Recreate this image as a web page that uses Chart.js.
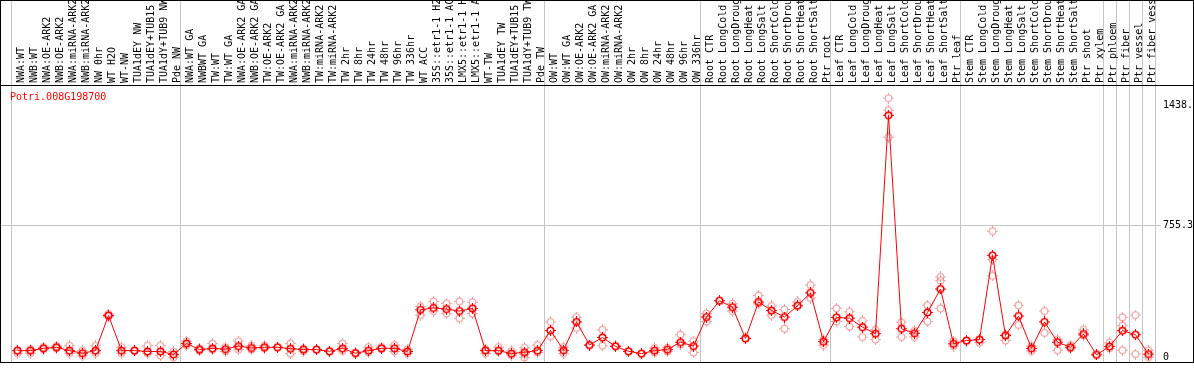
<!DOCTYPE html>
<html>
<head>
<meta charset="utf-8">
<script src="https://cdn.jsdelivr.net/npm/chart.js@4"></script>
<style>
  html, body { margin: 0; padding: 0; background: #fff; }
</style>
</head>
<body>
<canvas id="efp-chart" width="1194" height="370"></canvas>
<script>
var geneId = 'Potri.008G198700';

var sampleLabels = [
    'NWA:WT', 'NWB:WT', 'NWA:OE-ARK2', 'NWB:OE-ARK2', 'NWA:miRNA-ARK2', 'NWB:miRNA-ARK2', 'NW 0hr', 'WT H2O', 'WT-NW',
    'TUA1dEY NW', 'TUA1dEY+TUB15 NW', 'TUA1dY+TUB9 NW', 'Pde NW',
    'NWA:WT GA', 'NWBWT GA', 'TW:WT', 'TW:WT GA', 'NWA:OE-ARK2 GA', 'NWB:OE-ARK2 GA', 'TW:OE-ARK2', 'TW:OE-ARK2 GA',
    'NWA:miRNA-ARK2', 'NWB:miRNA-ARK2', 'TW:miRNA-ARK2', 'TW:miRNA-ARK2', 'TW 2hr', 'TW 8hr', 'TW 24hr', 'TW 48hr',
    'TW 96hr', 'TW 336hr', 'WT ACC', '35S::etr1-1 H2O', '35S::etr1-1 ACC', 'LMX5::etr1-1 H2O', 'LMX5::etr1-1 ACC',
    'WT-TW', 'TUA1dEY TW', 'TUA1dEY+TUB15 TW', 'TUA1dY+TUB9 TW', 'Pde TW',
    'OW:WT', 'OW:WT GA', 'OW:OE-ARK2', 'OW:OE-ARK2 GA', 'OW:miRNA-ARK2', 'OW:miRNA-ARK2', 'OW 2hr', 'OW 8hr',
    'OW 24hr', 'OW 48hr', 'OW 96hr', 'OW 336hr',
    'Root CTR', 'Root LongCold', 'Root LongDrought', 'Root LongHeat', 'Root LongSalt', 'Root ShortCold',
    'Root ShortDrought', 'Root ShortHeat', 'Root ShortSalt', 'Ptr root',
    'Leaf CTR', 'Leaf LongCold', 'Leaf LongDrought', 'Leaf LongHeat', 'Leaf LongSalt', 'Leaf ShortCold',
    'Leaf ShortDrought', 'Leaf ShortHeat', 'Leaf ShortSalt', 'Ptr leaf',
    'Stem CTR', 'Stem LongCold', 'Stem LongDrought', 'Stem LongHeat', 'Stem LongSalt', 'Stem ShortCold',
    'Stem ShortDrought', 'Stem ShortHeat', 'Stem ShortSalt', 'Ptr shoot', 'Ptr xylem', 'Ptr phloem',
    'Ptr fiber', 'Ptr vessel', 'Ptr fiber vessel'
];

// mean expression per sample
var meanValues = [
    40, 40, 53, 59, 40, 25, 40, 241, 40, 40, 35, 35, 18,
    81, 46, 53, 48, 66, 55, 59, 59, 51, 46, 46, 36, 53, 25, 40, 53, 53, 35, 273, 284, 277, 266, 281, 40, 40, 23, 31, 40,
    155, 42, 204, 72, 115, 64, 36, 23, 40, 46, 88, 66,
    232, 325, 288, 109, 318, 269, 232, 296, 370, 91,
    230, 225, 174, 137, 1384, 165, 139, 258, 392, 79,
    98, 103, 584, 126, 238, 53, 204, 88, 59, 135, 16, 64, 154, 131, 20
];

// replicates
var rep1 = [
    40, 48, 60, 66, 68, 40, 68, 249, 60, 40, 68, 68, 35,
    94, 53, 81, 60, 94, 68, 68, 59, 81, 53, 46, 36, 81, 29, 60, 60, 72, 48, 293, 321, 310, 321, 316, 48, 60, 38, 57, 72,
    204, 60, 232, 72, 159, 68, 36, 23, 55, 57, 131, 94,
    252, 325, 308, 113, 355, 295, 275, 318, 415, 103,
    281, 262, 210, 159, 1482, 202, 154, 299, 461, 94,
    94, 103, 722, 131, 299, 66, 266, 103, 72, 159, 20, 85, 230, 243, 42
];
var rep2 = [
    25, 25, 48, 53, 25, 10, 25, 234, 25, 40, 25, 12, 1,
    70, 40, 46, 35, 46, 46, 53, null, 23, 36, null, null, 38, 25, 31, 50, 35, 23, 243, 266, 252, 225, 252, 23, 35, 14, 20, 29,
    122, 23, 169, null, 68, null, null, null, 29, 35, 75, 29,
    206, null, 266, null, 308, 243, 165, 299, 340, 72,
    206, 178, 118, 103, 1413, 118, 118, 206, 439, 66,
    null, 85, 560, 98, 187, 38, 141, 42, 53, 127, null, 53, 183, 20, 2
];
var rep3 = [
    null, null, null, null, null, null, null, null, null, null, null, null, null,
    null, null, null, null, null, null, null, null, null, null, null, null, null, null, null, null, null, null, null, null,
    null, null, null, null, null, null, 1, null,
    null, null, null, null, null, null, null, null, null, null, null, null,
    null, null, null, null, null, null, null, null, null, null,
    null, null, null, null, 1259, null, null, null, 281, null,
    null, null, 467, null, null, null, null, null, null, null, null, null, 42, null, null
];

// first sample index of each group (for the separator lines)
var groupStarts = [0, 13, 41, 53, 63, 73, 84, 85, 86, 87];

var yTickValues = [0, 755.3, 1438.6];
var yTickLabels = ['0', '755.3', '1438.6'];
var midTick = 755.3;

var gridGray = '#c4c4c4';
var monoFont = { family: 'DejaVu Sans Mono', size: 10 };

function makeMarker(color, ringWidth) {
    const c = document.createElement('canvas');
    c.width = 11;
    c.height = 11;
    const g = c.getContext('2d');
    g.strokeStyle = color;
    g.lineWidth = ringWidth;
    g.beginPath();
    g.arc(5.5, 5.5, 3.3, 0, Math.PI * 2);
    g.stroke();
    g.fillStyle = color;
    g.fillRect(5, 0, 1, 2);
    g.fillRect(5, 9, 1, 2);
    g.fillRect(0, 5, 2, 1);
    g.fillRect(9, 5, 2, 1);
    return c;
}

var meanMarker = makeMarker('#ff0000', 1.6);
var repMarker = makeMarker('rgba(232, 96, 96, 0.55)', 1.2);

function separatorColor(ctx) {
    if (ctx.index === undefined || groupStarts.includes(ctx.index)) {
        return gridGray;
    }
    return 'rgba(0,0,0,0)';
}

function createRepDataset(values) {
    return {
        data: values,
        showLine: false,
        pointStyle: repMarker,
        pointRadius: 4,
        order: 2
    };
}

var framePlugin = {
    id: 'efpFrame',
    beforeDatasetsDraw(chart) {
        // the mid gridline runs on to the left edge
        const ctx = chart.ctx;
        const yPix = Math.round(chart.scales.y.getPixelForValue(midTick)) + 0.5;
        ctx.save();
        ctx.strokeStyle = gridGray;
        ctx.lineWidth = 1;
        ctx.beginPath();
        ctx.moveTo(0, yPix);
        ctx.lineTo(chart.chartArea.left, yPix);
        ctx.stroke();
        ctx.restore();
    },
    afterDraw(chart) {
        const ctx = chart.ctx;
        const area = chart.chartArea;
        ctx.save();
        ctx.strokeStyle = '#000';
        ctx.lineWidth = 1;
        ctx.strokeRect(0.5, 0.5, chart.width - 1, area.bottom);
        ctx.beginPath();
        ctx.moveTo(0, area.top + 0.5);
        ctx.lineTo(chart.width, area.top + 0.5);
        ctx.stroke();
        ctx.fillStyle = '#ff0000';
        ctx.font = '10px "DejaVu Sans Mono"';
        ctx.textBaseline = 'middle';
        ctx.fillText(geneId, 10, area.top + 12);
        ctx.restore();
    }
};

var efpChart = new Chart(document.getElementById('efp-chart'), {
    type: 'line',
    data: {
        labels: sampleLabels,
        datasets: [
            {
                data: meanValues,
                borderColor: '#ff0000',
                borderWidth: 1,
                pointStyle: meanMarker,
                pointRadius: 4,
                tension: 0,
                order: 0
            },
            createRepDataset(rep1),
            createRepDataset(rep2),
            createRepDataset(rep3)
        ]
    },
    options: {
        responsive: false,
        devicePixelRatio: 1,
        animation: false,
        events: [],
        layout: { padding: { left: 11, right: 0, top: 0, bottom: 2 } },
        plugins: {
            legend: { display: false },
            tooltip: { enabled: false }
        },
        scales: {
            x: {
                type: 'category',
                position: 'top',
                offset: true,
                grid: {
                    offset: true,
                    color: separatorColor,
                    lineWidth: 1,
                    tickLength: 85
                },
                border: { display: false },
                ticks: {
                    autoSkip: false,
                    minRotation: 90,
                    maxRotation: 90,
                    padding: -83,
                    labelOffset: 16,
                    color: '#000',
                    font: monoFont
                },
                afterFit: function (scale) {
                    scale.height = 85;
                }
            },
            y: {
                position: 'right',
                min: -25,
                max: 1557,
                afterBuildTicks: function (scale) {
                    scale.ticks = yTickValues.map(v => ({ value: v }));
                },
                grid: {
                    color: ctx => (ctx.tick && ctx.tick.value === midTick) ? gridGray : 'rgba(0,0,0,0)',
                    tickLength: 6
                },
                border: { display: false },
                ticks: {
                    padding: 2,
                    color: '#000',
                    font: monoFont,
                    callback: (value, i) => yTickLabels[i]
                },
                afterFit: function (scale) {
                    scale.width = 39;
                }
            }
        }
    },
    plugins: [framePlugin]
});
</script>
</body>
</html>
